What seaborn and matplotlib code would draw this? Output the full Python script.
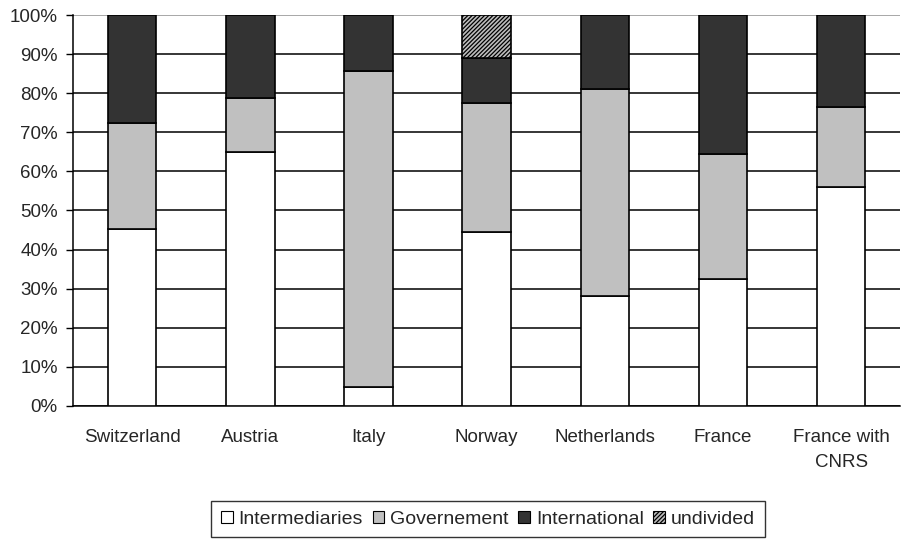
import numpy as np
import pandas as pd
import matplotlib
matplotlib.use('Agg')
import matplotlib.pyplot as plt
import seaborn as sns
from matplotlib.patches import Patch

# --- data (shares in %) ---
countries = ['Switzerland', 'Austria', 'Italy', 'Norway', 'Netherlands', 'France', 'France with\nCNRS']
intermediaries = [45.3, 65.0, 4.9, 44.4, 28.0, 32.5, 55.9]
governement = [27.0, 13.8, 80.8, 33.0, 53.1, 32.0, 20.6]
international = [27.7, 21.2, 14.3, 11.5, 18.9, 35.5, 23.5]
undivided = [0.0, 0.0, 0.0, 11.1, 0.0, 0.0, 0.0]

series = ['Intermediaries', 'Governement', 'International', 'undivided']
colors = ['#ffffff', '#c0c0c0', '#333333', '#bdbdbd']
hatches = [None, None, None, '////////']

df = pd.DataFrame({'country': countries, 'Intermediaries': intermediaries,
                   'Governement': governement, 'International': international,
                   'undivided': undivided})

sns.set_style('white')
plt.rcParams['font.family'] = ['Liberation Sans', 'DejaVu Sans']
plt.rcParams['hatch.linewidth'] = 0.9

fig = plt.figure(figsize=(9.02, 5.39), dpi=100)
ax = fig.add_axes([0.081, 0.247, 0.917, 0.725])

bottom = np.zeros(len(countries))
for name, col, h in zip(series, colors, hatches):
    vals = df[name].values
    sns.barplot(data=df, x='country', y=name, color=col, bottom=bottom, width=0.41,
                edgecolor='black', linewidth=1.2, hatch=h, saturation=1, ax=ax, zorder=3)
    bottom = bottom + vals

# hide zero-height bars (undivided only exists for Norway)
for p in ax.patches:
    if p.get_height() == 0:
        p.set_visible(False)

ax.set_xlim(-0.5, len(countries) - 0.5)
ax.set_ylim(0, 100)
ax.set_yticks(np.arange(0, 101, 10))
ax.set_yticklabels([f'{v}%' for v in range(0, 101, 10)], fontsize=13.5)
ax.set_xticks(range(len(countries)))
ax.set_xticklabels(countries, fontsize=13.5, linespacing=1.6)
ax.set_xticks(np.arange(-0.5, len(countries)), minor=True)
ax.tick_params(axis='x', which='major', length=0, pad=17)
ax.tick_params(axis='x', which='minor', length=5, width=1, color='black', direction='out')
ax.tick_params(axis='y', length=5, width=1, color='black', direction='out', pad=6, left=True)
ax.set_xlabel('')
ax.set_ylabel('')

ax.yaxis.grid(True, color='black', linewidth=1.1, zorder=0)
ax.set_axisbelow(True)
ax.get_ygridlines()[-1].set_color('#909090')

for s in ['top', 'right']:
    ax.spines[s].set_visible(False)
for s in ['left', 'bottom']:
    ax.spines[s].set_color('black')
    ax.spines[s].set_linewidth(1.1)

handles = [Patch(facecolor=c, edgecolor='black', hatch=h, linewidth=0.8)
           for c, h in zip(colors, hatches)]
leg = fig.legend(handles, series, loc='center', bbox_to_anchor=(0.541, 0.037), ncol=4,
                 fontsize=14, frameon=True, fancybox=False, edgecolor='black',
                 handlelength=0.6, handleheight=0.6, handletextpad=0.3,
                 columnspacing=0.5, borderpad=0.5)
leg.get_frame().set_linewidth(1.0)

fig.savefig('out.png', dpi=100)
